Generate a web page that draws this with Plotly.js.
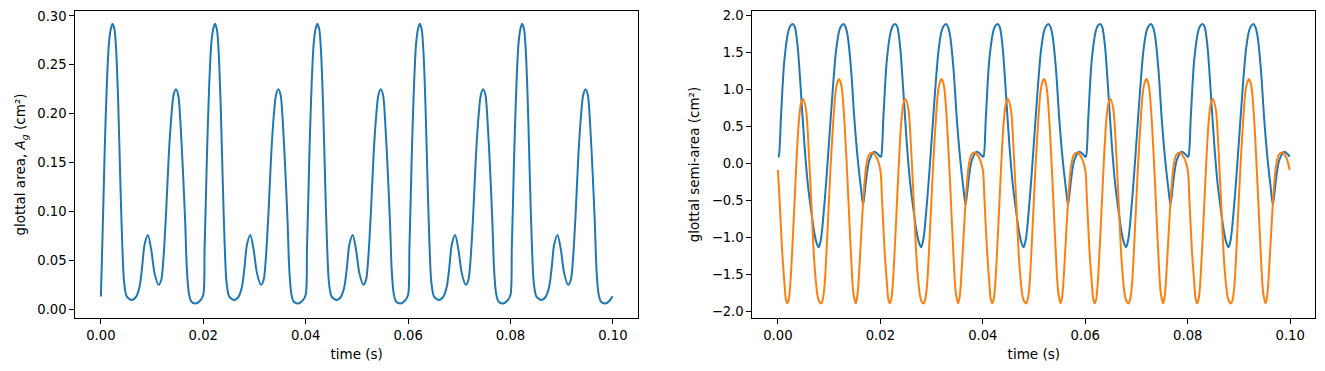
<!DOCTYPE html>
<html>
<head>
<meta charset="utf-8">
<script src="https://cdn.plot.ly/plotly-3.0.1.min.js"></script>
<style>html,body{margin:0;padding:0;background:#fff;}#chart{width:1325px;height:371px;}</style>
</head>
<body>
<div id="chart"></div>
<script>
// Left panel: glottal area A_g (cm^2) vs time (s)
const areaTime = [
0, 0.00025, 0.0005, 0.00077, 0.00116, 0.00155, 0.00194, 0.00227, 0.00266, 0.00298, 0.00338, 0.00377, 0.00416, 0.00455, 0.00507, 0.00605, 0.00689, 0.00755, 0.00807, 0.00852, 0.00918, 0.00983, 0.01048, 0.01126, 0.01178, 0.01224, 0.01276, 0.01328, 0.0138, 0.01419, 0.01465, 0.01511, 0.0155, 0.01602, 0.01647, 0.0168, 0.01719, 0.01765, 0.0185, 0.01941,
0.02, 0.02025, 0.0205, 0.02077, 0.02116, 0.02155, 0.02194, 0.02227, 0.02266, 0.02298, 0.02338, 0.02377, 0.02416, 0.02455, 0.02507, 0.02605, 0.02689, 0.02755, 0.02807, 0.02852, 0.02918, 0.02983, 0.03048, 0.03126, 0.03178, 0.03224, 0.03276, 0.03328, 0.0338, 0.03419, 0.03465, 0.03511, 0.0355, 0.03602, 0.03647, 0.0368, 0.03719, 0.03765, 0.0385, 0.03941,
0.04, 0.04025, 0.0405, 0.04077, 0.04116, 0.04155, 0.04194, 0.04227, 0.04266, 0.04298, 0.04338, 0.04377, 0.04416, 0.04455, 0.04507, 0.04605, 0.04689, 0.04755, 0.04807, 0.04852, 0.04918, 0.04983, 0.05048, 0.05126, 0.05178, 0.05224, 0.05276, 0.05328, 0.0538, 0.05419, 0.05465, 0.05511, 0.0555, 0.05602, 0.05647, 0.0568, 0.05719, 0.05765, 0.0585, 0.05941,
0.06, 0.06025, 0.0605, 0.06077, 0.06116, 0.06155, 0.06194, 0.06227, 0.06266, 0.06298, 0.06338, 0.06377, 0.06416, 0.06455, 0.06507, 0.06605, 0.06689, 0.06755, 0.06807, 0.06852, 0.06918, 0.06983, 0.07048, 0.07126, 0.07178, 0.07224, 0.07276, 0.07328, 0.0738, 0.07419, 0.07465, 0.07511, 0.0755, 0.07602, 0.07647, 0.0768, 0.07719, 0.07765, 0.0785, 0.07941,
0.08, 0.08025, 0.0805, 0.08077, 0.08116, 0.08155, 0.08194, 0.08227, 0.08266, 0.08298, 0.08338, 0.08377, 0.08416, 0.08455, 0.08507, 0.08605, 0.08689, 0.08755, 0.08807, 0.08852, 0.08918, 0.08983, 0.09048, 0.09126, 0.09178, 0.09224, 0.09276, 0.09328, 0.0938, 0.09419, 0.09465, 0.09511, 0.0955, 0.09602, 0.09647, 0.0968, 0.09719, 0.09765, 0.0985, 0.09941, 0.0999
];
const glottalArea = [
0.013, 0.062, 0.112, 0.168, 0.230, 0.271, 0.287, 0.292, 0.286, 0.265, 0.211, 0.136, 0.068, 0.027, 0.013, 0.0095, 0.013, 0.023, 0.044, 0.066, 0.076, 0.061, 0.037, 0.025, 0.030, 0.054, 0.102, 0.160, 0.200, 0.219, 0.225, 0.219, 0.194, 0.142, 0.088, 0.040, 0.016, 0.008, 0.006, 0.009,
0.015, 0.062, 0.112, 0.168, 0.230, 0.271, 0.287, 0.292, 0.286, 0.265, 0.211, 0.136, 0.068, 0.027, 0.013, 0.0095, 0.013, 0.023, 0.044, 0.066, 0.076, 0.061, 0.037, 0.025, 0.030, 0.054, 0.102, 0.160, 0.200, 0.219, 0.225, 0.219, 0.194, 0.142, 0.088, 0.040, 0.016, 0.008, 0.006, 0.009,
0.015, 0.062, 0.112, 0.168, 0.230, 0.271, 0.287, 0.292, 0.286, 0.265, 0.211, 0.136, 0.068, 0.027, 0.013, 0.0095, 0.013, 0.023, 0.044, 0.066, 0.076, 0.061, 0.037, 0.025, 0.030, 0.054, 0.102, 0.160, 0.200, 0.219, 0.225, 0.219, 0.194, 0.142, 0.088, 0.040, 0.016, 0.008, 0.006, 0.009,
0.015, 0.062, 0.112, 0.168, 0.230, 0.271, 0.287, 0.292, 0.286, 0.265, 0.211, 0.136, 0.068, 0.027, 0.013, 0.0095, 0.013, 0.023, 0.044, 0.066, 0.076, 0.061, 0.037, 0.025, 0.030, 0.054, 0.102, 0.160, 0.200, 0.219, 0.225, 0.219, 0.194, 0.142, 0.088, 0.040, 0.016, 0.008, 0.006, 0.009,
0.015, 0.062, 0.112, 0.168, 0.230, 0.271, 0.287, 0.292, 0.286, 0.265, 0.211, 0.136, 0.068, 0.027, 0.013, 0.0095, 0.013, 0.023, 0.044, 0.066, 0.076, 0.061, 0.037, 0.025, 0.030, 0.054, 0.102, 0.160, 0.200, 0.219, 0.225, 0.219, 0.194, 0.142, 0.088, 0.040, 0.016, 0.008, 0.006, 0.009, 0.0135
];

// Right panel, blue: first glottal semi-area (cm^2)
const semi1Time = [
0, 0.00015, 0.0006, 0.00126, 0.0021, 0.0025, 0.00289, 0.0033, 0.00386, 0.00451, 0.00516, 0.00582, 0.00647, 0.00712, 0.00755, 0.00797, 0.0084, 0.00875, 0.0094, 0.01005, 0.0107, 0.01136, 0.01201, 0.01245, 0.01285, 0.01325, 0.01364, 0.01429, 0.01494, 0.0156, 0.01625, 0.01663, 0.01722, 0.01787, 0.01884, 0.01949,
0.02, 0.02015, 0.0206, 0.02126, 0.0221, 0.0225, 0.02289, 0.0233, 0.02386, 0.02451, 0.02516, 0.02582, 0.02647, 0.02712, 0.02755, 0.02797, 0.0284, 0.02875, 0.0294, 0.03005, 0.0307, 0.03136, 0.03201, 0.03245, 0.03285, 0.03325, 0.03364, 0.03429, 0.03494, 0.0356, 0.03625, 0.03663, 0.03722, 0.03787, 0.03884, 0.03949,
0.04, 0.04015, 0.0406, 0.04126, 0.0421, 0.0425, 0.04289, 0.0433, 0.04386, 0.04451, 0.04516, 0.04582, 0.04647, 0.04712, 0.04755, 0.04797, 0.0484, 0.04875, 0.0494, 0.05005, 0.0507, 0.05136, 0.05201, 0.05245, 0.05285, 0.05325, 0.05364, 0.05429, 0.05494, 0.0556, 0.05625, 0.05663, 0.05722, 0.05787, 0.05884, 0.05949,
0.06, 0.06015, 0.0606, 0.06126, 0.0621, 0.0625, 0.06289, 0.0633, 0.06386, 0.06451, 0.06516, 0.06582, 0.06647, 0.06712, 0.06755, 0.06797, 0.0684, 0.06875, 0.0694, 0.07005, 0.0707, 0.07136, 0.07201, 0.07245, 0.07285, 0.07325, 0.07364, 0.07429, 0.07494, 0.0756, 0.07625, 0.07663, 0.07722, 0.07787, 0.07884, 0.07949,
0.08, 0.08015, 0.0806, 0.08126, 0.0821, 0.0825, 0.08289, 0.0833, 0.08386, 0.08451, 0.08516, 0.08582, 0.08647, 0.08712, 0.08755, 0.08797, 0.0884, 0.08875, 0.0894, 0.09005, 0.0907, 0.09136, 0.09201, 0.09245, 0.09285, 0.09325, 0.09364, 0.09429, 0.09494, 0.0956, 0.09625, 0.09663, 0.09722, 0.09787, 0.09884, 0.09949, 0.0999
];
const semiArea1 = [
0.095, 0.10, 0.64, 1.40, 1.807, 1.87, 1.888, 1.85, 1.58, 0.951, 0.275, -0.265, -0.626, -0.94, -1.07, -1.13, -1.02, -0.806, -0.265, 0.365, 0.996, 1.536, 1.807, 1.87, 1.888, 1.84, 1.716, 1.266, 0.59, 0.05, -0.355, -0.558, -0.22, 0.05, 0.162, 0.13,
0.095, 0.10, 0.64, 1.40, 1.807, 1.87, 1.888, 1.85, 1.58, 0.951, 0.275, -0.265, -0.626, -0.94, -1.07, -1.13, -1.02, -0.806, -0.265, 0.365, 0.996, 1.536, 1.807, 1.87, 1.888, 1.84, 1.716, 1.266, 0.59, 0.05, -0.355, -0.558, -0.22, 0.05, 0.162, 0.13,
0.095, 0.10, 0.64, 1.40, 1.807, 1.87, 1.888, 1.85, 1.58, 0.951, 0.275, -0.265, -0.626, -0.94, -1.07, -1.13, -1.02, -0.806, -0.265, 0.365, 0.996, 1.536, 1.807, 1.87, 1.888, 1.84, 1.716, 1.266, 0.59, 0.05, -0.355, -0.558, -0.22, 0.05, 0.162, 0.13,
0.095, 0.10, 0.64, 1.40, 1.807, 1.87, 1.888, 1.85, 1.58, 0.951, 0.275, -0.265, -0.626, -0.94, -1.07, -1.13, -1.02, -0.806, -0.265, 0.365, 0.996, 1.536, 1.807, 1.87, 1.888, 1.84, 1.716, 1.266, 0.59, 0.05, -0.355, -0.558, -0.22, 0.05, 0.162, 0.13,
0.095, 0.10, 0.64, 1.40, 1.807, 1.87, 1.888, 1.85, 1.58, 0.951, 0.275, -0.265, -0.626, -0.94, -1.07, -1.13, -1.02, -0.806, -0.265, 0.365, 0.996, 1.536, 1.807, 1.87, 1.888, 1.84, 1.716, 1.266, 0.59, 0.05, -0.355, -0.558, -0.22, 0.05, 0.162, 0.13, 0.095
];

// Right panel, orange: second glottal semi-area (cm^2)
const semi2Time = [
0, 0.0003, 0.0008, 0.00126, 0.00155, 0.00184, 0.00213, 0.00243, 0.00302, 0.00354, 0.00406, 0.00451, 0.0049, 0.00549, 0.00601, 0.00653, 0.00712, 0.00777, 0.00815, 0.00849, 0.0088, 0.00914, 0.00972, 0.01025, 0.0107, 0.01122, 0.0116, 0.01194, 0.01225, 0.01253, 0.01305, 0.01364, 0.01422, 0.01474, 0.0152, 0.01548, 0.01572, 0.01624, 0.0167, 0.01722, 0.01774, 0.01839, 0.01917,
0.02, 0.0203, 0.0208, 0.02126, 0.02155, 0.02184, 0.02213, 0.02243, 0.02302, 0.02354, 0.02406, 0.02451, 0.0249, 0.02549, 0.02601, 0.02653, 0.02712, 0.02777, 0.02815, 0.02849, 0.0288, 0.02914, 0.02972, 0.03025, 0.0307, 0.03122, 0.0316, 0.03194, 0.03225, 0.03253, 0.03305, 0.03364, 0.03422, 0.03474, 0.0352, 0.03548, 0.03572, 0.03624, 0.0367, 0.03722, 0.03774, 0.03839, 0.03917,
0.04, 0.0403, 0.0408, 0.04126, 0.04155, 0.04184, 0.04213, 0.04243, 0.04302, 0.04354, 0.04406, 0.04451, 0.0449, 0.04549, 0.04601, 0.04653, 0.04712, 0.04777, 0.04815, 0.04849, 0.0488, 0.04914, 0.04972, 0.05025, 0.0507, 0.05122, 0.0516, 0.05194, 0.05225, 0.05253, 0.05305, 0.05364, 0.05422, 0.05474, 0.0552, 0.05548, 0.05572, 0.05624, 0.0567, 0.05722, 0.05774, 0.05839, 0.05917,
0.06, 0.0603, 0.0608, 0.06126, 0.06155, 0.06184, 0.06213, 0.06243, 0.06302, 0.06354, 0.06406, 0.06451, 0.0649, 0.06549, 0.06601, 0.06653, 0.06712, 0.06777, 0.06815, 0.06849, 0.0688, 0.06914, 0.06972, 0.07025, 0.0707, 0.07122, 0.0716, 0.07194, 0.07225, 0.07253, 0.07305, 0.07364, 0.07422, 0.07474, 0.0752, 0.07548, 0.07572, 0.07624, 0.0767, 0.07722, 0.07774, 0.07839, 0.07917,
0.08, 0.0803, 0.0808, 0.08126, 0.08155, 0.08184, 0.08213, 0.08243, 0.08302, 0.08354, 0.08406, 0.08451, 0.0849, 0.08549, 0.08601, 0.08653, 0.08712, 0.08777, 0.08815, 0.08849, 0.0888, 0.08914, 0.08972, 0.09025, 0.0907, 0.09122, 0.0916, 0.09194, 0.09225, 0.09253, 0.09305, 0.09364, 0.09422, 0.09474, 0.0952, 0.09548, 0.09572, 0.09624, 0.0967, 0.09722, 0.09774, 0.09839, 0.09917, 0.0999
];
const semiArea2 = [
-0.085, -0.45, -1.15, -1.60, -1.83, -1.887, -1.83, -1.616, -0.851, -0.085, 0.546, 0.816, 0.874, 0.726, 0.185, -0.535, -1.346, -1.797, -1.87, -1.887, -1.82, -1.616, -0.851, -0.085, 0.456, 0.951, 1.10, 1.145, 1.10, 0.996, 0.50, -0.31, -1.166, -1.752, -1.887, -1.80, -1.616, -0.986, -0.446, -0.04, 0.117, 0.153, 0.095,
-0.085, -0.45, -1.15, -1.60, -1.83, -1.887, -1.83, -1.616, -0.851, -0.085, 0.546, 0.816, 0.874, 0.726, 0.185, -0.535, -1.346, -1.797, -1.87, -1.887, -1.82, -1.616, -0.851, -0.085, 0.456, 0.951, 1.10, 1.145, 1.10, 0.996, 0.50, -0.31, -1.166, -1.752, -1.887, -1.80, -1.616, -0.986, -0.446, -0.04, 0.117, 0.153, 0.095,
-0.085, -0.45, -1.15, -1.60, -1.83, -1.887, -1.83, -1.616, -0.851, -0.085, 0.546, 0.816, 0.874, 0.726, 0.185, -0.535, -1.346, -1.797, -1.87, -1.887, -1.82, -1.616, -0.851, -0.085, 0.456, 0.951, 1.10, 1.145, 1.10, 0.996, 0.50, -0.31, -1.166, -1.752, -1.887, -1.80, -1.616, -0.986, -0.446, -0.04, 0.117, 0.153, 0.095,
-0.085, -0.45, -1.15, -1.60, -1.83, -1.887, -1.83, -1.616, -0.851, -0.085, 0.546, 0.816, 0.874, 0.726, 0.185, -0.535, -1.346, -1.797, -1.87, -1.887, -1.82, -1.616, -0.851, -0.085, 0.456, 0.951, 1.10, 1.145, 1.10, 0.996, 0.50, -0.31, -1.166, -1.752, -1.887, -1.80, -1.616, -0.986, -0.446, -0.04, 0.117, 0.153, 0.095,
-0.085, -0.45, -1.15, -1.60, -1.83, -1.887, -1.83, -1.616, -0.851, -0.085, 0.546, 0.816, 0.874, 0.726, 0.185, -0.535, -1.346, -1.797, -1.87, -1.887, -1.82, -1.616, -0.851, -0.085, 0.456, 0.951, 1.10, 1.145, 1.10, 0.996, 0.50, -0.31, -1.166, -1.752, -1.887, -1.80, -1.616, -0.986, -0.446, -0.04, 0.117, 0.153, 0.095, -0.085
];

const xTickVals = [0, 0.02, 0.04, 0.06, 0.08, 0.10];
const leftYTicks = [0, 0.05, 0.10, 0.15, 0.20, 0.25, 0.30];
const rightYTicks = [-2.0, -1.5, -1.0, -0.5, 0.0, 0.5, 1.0, 1.5, 2.0];

const W = 1325, H = 371;
const FONT = {family: 'DejaVu Sans, sans-serif', size: 13.5, color: '#000'};
const TICKFONT = {family: 'DejaVu Sans, sans-serif', size: 13.2, color: '#000'};
const lineStyle = (c) => ({color: c, width: 2, shape: 'spline', smoothing: 0.8});

const traces = [
  {x: areaTime, y: glottalArea, type: 'scatter', mode: 'lines', line: lineStyle('#1f77b4'), xaxis: 'x', yaxis: 'y', hoverinfo: 'skip'},
  {x: semi1Time, y: semiArea1, type: 'scatter', mode: 'lines', line: lineStyle('#1f77b4'), xaxis: 'x2', yaxis: 'y2', hoverinfo: 'skip'},
  {x: semi2Time, y: semiArea2, type: 'scatter', mode: 'lines', line: lineStyle('#ff7f0e'), xaxis: 'x2', yaxis: 'y2', hoverinfo: 'skip'}
];

const axBase = {
  showgrid: false, zeroline: false, showline: true, mirror: true,
  linecolor: '#000', linewidth: 1, ticks: 'outside', ticklen: 5, tickwidth: 1,
  tickcolor: '#000', tickfont: TICKFONT, automargin: false
};
const yTop = 1 - 10.7 / H, yBot = 1 - 318.3 / H;

const layout = {
  width: W, height: H,
  margin: {l: 0, r: 0, t: 0, b: 0},
  paper_bgcolor: '#fff', plot_bgcolor: '#fff',
  showlegend: false, font: FONT,
  xaxis: Object.assign({}, axBase, {
    domain: [75.3 / W, 638 / W], range: [-0.005, 0.1049],
    tickvals: xTickVals, tickformat: '.2f', anchor: 'y',
    title: {text: 'time (s)', font: FONT, standoff: 7}
  }),
  yaxis: Object.assign({}, axBase, {
    domain: [yBot, yTop], range: [-0.0092, 0.3054],
    tickvals: leftYTicks, tickformat: '.2f', anchor: 'x',
    title: {text: 'glottal area, <i>A</i><sub><i>g</i></sub> (cm²)', font: FONT, standoff: 8}
  }),
  xaxis2: Object.assign({}, axBase, {
    domain: [752.3 / W, 1315.3 / W], range: [-0.005, 0.1049],
    tickvals: xTickVals, tickformat: '.2f', anchor: 'y2',
    title: {text: 'time (s)', font: FONT, standoff: 7}
  }),
  yaxis2: Object.assign({}, axBase, {
    domain: [yBot, yTop], range: [-2.089, 2.068],
    tickvals: rightYTicks, tickformat: '.1f', anchor: 'x2',
    title: {text: 'glottal semi-area (cm²)', font: FONT, standoff: 8}
  })
};

Plotly.newPlot('chart', traces, layout, {staticPlot: true, displayModeBar: false});
</script>
</body>
</html>
